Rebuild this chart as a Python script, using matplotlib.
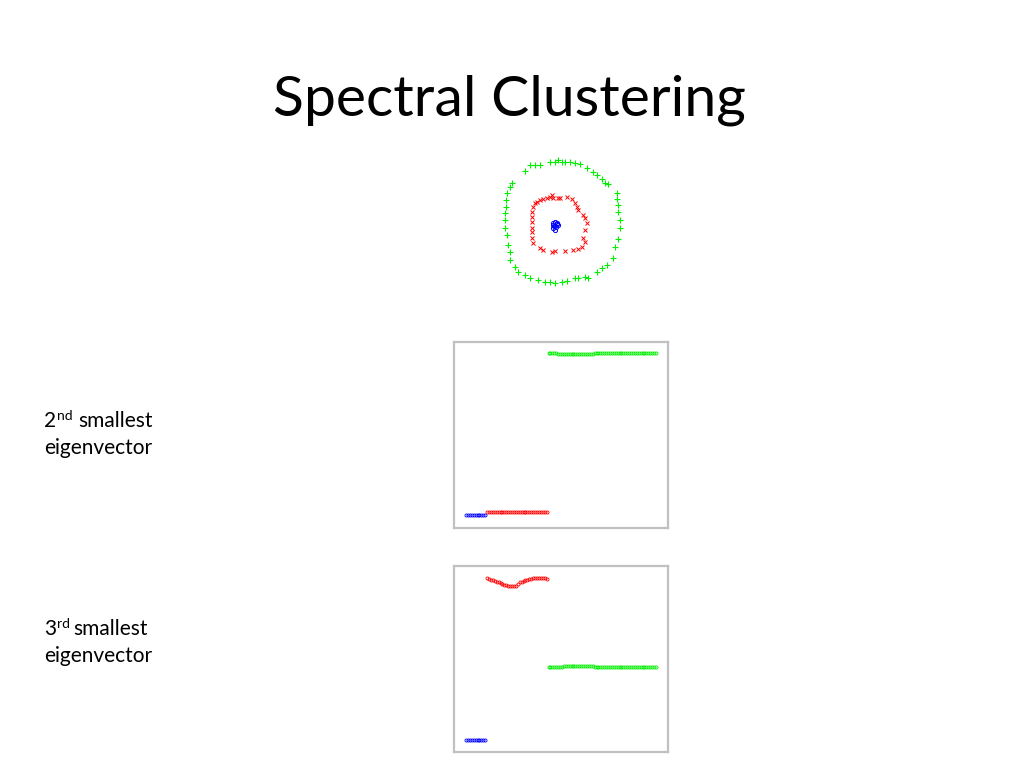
import matplotlib
matplotlib.use("Agg")
import matplotlib.pyplot as plt
import numpy as np

# ring data (three clusters)
green_x = [-1.63, -1.38, -1.13, -0.63, -0.38, -0.22, -0.05, 0.12, 0.37, 0.62, 0.87, -1.88, 1.20, 1.53,
           1.70, 1.95, 2.12, 2.28, -2.55, -2.63, -2.80, 2.70, 2.70, -2.83, 2.78, 2.78, -2.83, -2.88,
           -2.88, 2.87, 2.87, -2.88, -2.80, 2.78, -2.72, 2.62, -2.63, -2.63, 2.53, 2.20, -2.38, -2.22,
           1.95, -1.88, -1.63, -1.22, -0.88, -0.63, -0.38, -0.05, 0.20, 0.62, 0.78, 1.12, 1.28, 1.70]
green_y = [2.88, 2.88, 2.88, 3.05, 3.05, 3.13, 3.05, 3.05, 3.05, 3.00, 2.93, 2.60, 2.72, 2.55,
           2.38, 2.17, 2.00, 1.92, 1.97, 1.80, 1.47, 1.47, 1.17, 1.13, 0.88, 0.55, 0.80, 0.47,
           0.13, 0.13, -0.28, -0.28, -0.62, -0.83, -1.12, -1.20, -1.45, -1.87, -1.78, -2.12, -2.20, -2.45,
           -2.28, -2.62, -2.78, -2.87, -2.95, -2.95, -3.00, -2.95, -2.90, -2.78, -2.78, -2.70, -2.78, -2.45]

red_x = [-1.30, -1.13, -0.97, -0.80, -0.63, -0.55, -0.47, -0.22, -0.13, 0.20, 0.45, 0.62, 0.70,
         0.78, 1.03, 1.12, 1.20, 1.12, 1.03, 1.12, 0.95, 0.78, 0.53, 0.12, -0.38, -0.55, -0.97,
         -1.13, -1.47, -1.55, -1.55, -1.55, -1.55, -1.55, -1.55, -1.47, -1.38]
red_y = [1.05, 1.13, 1.17, 1.22, 1.30, 1.38, 1.22, 1.25, 1.25, 1.30, 1.17, 1.00, 0.80,
         0.63, 0.38, 0.22, -0.03, -0.37, -0.78, -0.95, -1.20, -1.33, -1.37, -1.42, -1.42, -1.45, -1.37,
         -1.28, -1.03, -0.78, -0.45, -0.28, 0.05, 0.30, 0.55, 0.80, 0.97]

blue_x = [-0.47, -0.38, -0.30, -0.43, -0.33, -0.50, -0.22, -0.38, -0.30, -0.47]
blue_y = [0.00, 0.05, -0.03, -0.17, -0.23, -0.12, -0.12, -0.37, -0.07, -0.28]

# eigenvectors, points ordered blue (1-11), red (12-43), green (44-100)
ev2_blue = [-0.129] * 11
ev2_red = [-0.1247] * 32
ev2_green = [0.1318] * 5 + [0.1312, 0.1306, 0.1302, 0.1302, 0.1300, 0.1300, 0.1300, 0.1300, 0.1300,
                            0.1300, 0.1300, 0.1300, 0.1302, 0.1302, 0.1302, 0.1304, 0.1306, 0.1310,
                            0.1314] + [0.1318] * 33

ev3_blue = [-0.1302] * 11
ev3_red = [0.130, 0.129, 0.128, 0.1275, 0.126, 0.125, 0.1235, 0.123, 0.121, 0.1195, 0.1188,
           0.1184, 0.1182, 0.1182, 0.1182, 0.1184, 0.121, 0.1237, 0.125, 0.1263, 0.127, 0.128,
           0.129, 0.1295, 0.130, 0.1302, 0.1302, 0.1302, 0.1302, 0.1302, 0.130, 0.1295]
ev3_green = [-0.0129] * 8 + [-0.012] * 3 + [-0.0113] * 10 + [-0.012] * 3 + [-0.013] * 33

FONT = ["Lato", "DejaVu Sans"]

fig = plt.figure(figsize=(10.24, 7.68), dpi=100)
fig.patch.set_facecolor("white")

# background axes for the slide text, in pixel units
bg = fig.add_axes([0, 0, 1, 1])
bg.set_xlim(0, 1024)
bg.set_ylim(768, 0)
bg.axis("off")

bg.text(509, 115, "Spectral Clustering", fontsize=41, family=FONT, ha="center", va="baseline")


def side_label(y0, num, sup, x_word):
    bg.text(44, y0, num, fontsize=15, family=FONT, va="baseline")
    bg.text(56.5, y0 - 7, sup, fontsize=10, family=FONT, va="baseline")
    bg.text(x_word, y0, "smallest", fontsize=15, family=FONT, va="baseline")
    bg.text(44, y0 + 27, "eigenvector", fontsize=15, family=FONT, va="baseline")


side_label(427, "2", "nd", 78)
side_label(635, "3", "rd", 73)

# ring scatter
ax = fig.add_axes([492.5 / 1024, 1 - 292.6 / 768, 140 / 1024, 140 / 768])
ax.plot(green_x, green_y, "+", color="#00ee00", ms=4, mew=0.8)
ax.plot(red_x, red_y, "x", color="red", ms=3.5, mew=0.7)
ax.plot(blue_x, blue_y, "o", color="blue", mfc="none", ms=3, mew=0.7)
ax.set_xlim(-3.5, 3.5)
ax.set_ylim(-3.5, 3.5)
ax.axis("off")


def eig_panel(top_px, blue, red, green):
    a = fig.add_axes([454 / 1024, 1 - (top_px + 186) / 768, 214 / 1024, 186 / 768])
    nb, nr = len(blue), len(red)
    ib = np.arange(1, nb + 1)
    ir = np.arange(nb + 1, nb + nr + 1)
    ig = np.arange(nb + nr + 1, nb + nr + len(green) + 1)
    a.plot(ib, blue, "o", color="blue", mfc="none", ms=2.2, mew=0.6)
    a.plot(ir, red, "o", color="red", mfc="none", ms=2.2, mew=0.6)
    a.plot(ig, green, "o", color="#00ee00", mfc="none", ms=2.2, mew=0.6)
    a.set_xlim(-5.25, 106.25)
    a.set_ylim(-0.15, 0.15)
    a.set_xticks([])
    a.set_yticks([])
    for s in a.spines.values():
        s.set_color("#c0c0c0")
        s.set_linewidth(1.6)
    return a


eig_panel(342, ev2_blue, ev2_red, ev2_green)
eig_panel(566, ev3_blue, ev3_red, ev3_green)

fig.savefig("out.png", dpi=100, facecolor="white")
